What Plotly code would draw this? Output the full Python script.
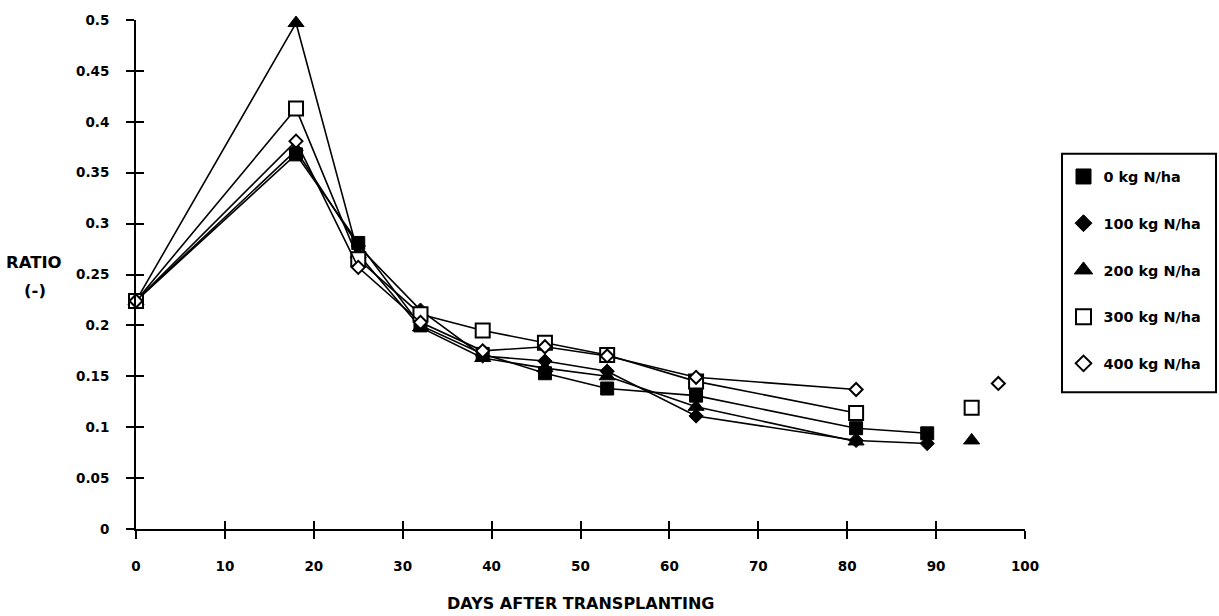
import plotly.graph_objects as go

# ---- data ----
days_main = [0, 18, 25, 32, 39, 46, 53, 63, 81, 89]
n0 = [0.224, 0.368, 0.281, 0.200, 0.172, 0.153, 0.138, 0.131, 0.099, 0.094]
n100 = [0.224, 0.372, 0.278, 0.215, 0.170, 0.165, 0.155, 0.111, 0.087, 0.084]

days_200 = [0, 18, 25, 32, 39, 46, 53, 63, 81, 89, 94]
n200 = [0.224, 0.497, 0.270, 0.198, 0.168, 0.158, 0.150, 0.120, 0.086, None, 0.087]

days_300 = [0, 18, 25, 32, 39, 46, 53, 63, 81, 89, 94]
n300 = [0.224, 0.413, 0.265, 0.211, 0.195, 0.183, 0.171, 0.145, 0.114, None, 0.119]

days_400 = [0, 18, 25, 32, 39, 46, 53, 63, 81, 89, 97]
n400 = [0.224, 0.381, 0.257, 0.203, 0.175, 0.179, 0.170, 0.149, 0.137, None, 0.143]

series_names = ["0 kg N/ha", "100 kg N/ha", "200 kg N/ha", "300 kg N/ha", "400 kg N/ha"]
x_ticks = [0, 10, 20, 30, 40, 50, 60, 70, 80, 90, 100]
y_ticks = [0, 0.05, 0.1, 0.15, 0.2, 0.25, 0.3, 0.35, 0.4, 0.45, 0.5]
y_tick_text = ["0", "0.05", "0.1", "0.15", "0.2", "0.25", "0.3", "0.35", "0.4", "0.45", "0.5"]

FONT = "DejaVu Sans"

styles = [
    dict(symbol="square", size=13, color="black", line=dict(color="black", width=1)),
    dict(symbol="diamond", size=11, color="black", line=dict(color="black", width=1)),
    dict(symbol="triangle-up", size=14, color="black", line=dict(color="black", width=1)),
    dict(symbol="square", size=14, color="white", line=dict(color="black", width=2)),
    dict(symbol="diamond", size=10, color="white", line=dict(color="black", width=2)),
]
legend_styles = [
    dict(symbol="square", size=15, color="black", line=dict(color="black", width=1)),
    dict(symbol="diamond", size=13, color="black", line=dict(color="black", width=1)),
    dict(symbol="triangle-up", size=16, color="black", line=dict(color="black", width=1)),
    dict(symbol="square", size=15, color="white", line=dict(color="black", width=2)),
    dict(symbol="diamond", size=12, color="white", line=dict(color="black", width=2)),
]

data = [(days_main, n0), (days_main, n100), (days_200, n200), (days_300, n300), (days_400, n400)]

fig = go.Figure()
for (xs, ys), st in zip(data, styles):
    fig.add_trace(go.Scatter(
        x=xs, y=ys, mode="lines+markers", connectgaps=False,
        line=dict(color="black", width=1.6), marker=st,
        showlegend=False, cliponaxis=False, hoverinfo="x+y",
    ))

for i, (name, st) in enumerate(zip(series_names, legend_styles)):
    fig.add_trace(go.Scatter(
        x=[None], y=[None], mode="markers", marker=st, name=name,
        legendgroup=f"g{i}", showlegend=True,
    ))

# helper trace for inner tick half (crossing ticks)
fig.add_trace(go.Scatter(x=[None], y=[None], xaxis="x2", yaxis="y2",
                         showlegend=False, hoverinfo="skip"))

axis_common = dict(showgrid=False, zeroline=False, linecolor="black",
                   tickcolor="black", tickwidth=2, ticklen=8)

plot_left, plot_w = 136, 1219 - 136 - 194
plot_top, plot_h = 15, 616 - 15 - 87


def px_x(px):
    return (px - plot_left) / plot_w


def px_y(py):
    return (plot_top + plot_h - py) / plot_h


fig.update_layout(
    width=1219, height=616,
    margin=dict(l=136, r=194, t=15, b=87),
    paper_bgcolor="white", plot_bgcolor="white",
    font=dict(family=FONT, color="black", size=13),
    xaxis=dict(range=[0, 100], tickvals=x_ticks, showline=True, linewidth=2,
               ticks="outside", ticklabelstandoff=16,
               tickfont=dict(family=FONT, size=13.5, weight="bold"),
               **axis_common),
    yaxis=dict(range=[0, 0.5], tickvals=y_ticks, ticktext=y_tick_text,
               showline=True, linewidth=2, ticks="outside", ticklabelstandoff=14,
               tickfont=dict(family=FONT, size=13.5, weight="bold"),
               **axis_common),
    xaxis2=dict(range=[0, 100], tickvals=x_ticks, overlaying="x", anchor="y2",
                showline=False, ticks="inside", showticklabels=False, side="bottom",
                **axis_common),
    yaxis2=dict(range=[0, 0.5], tickvals=y_ticks, overlaying="y", anchor="x2",
                showline=False, ticks="inside", showticklabels=False, side="left",
                **axis_common),
    legend=dict(
        x=px_x(1063.5), y=px_y(157), xanchor="left", yanchor="top",
        borderwidth=0, bgcolor="rgba(0,0,0,0)",
        font=dict(family=FONT, size=14.4, weight="bold"),
        traceorder="grouped", tracegroupgap=25,
    ),
    shapes=[
        dict(type="rect", xref="paper", yref="paper",
             x0=px_x(1062), x1=px_x(1216), y0=px_y(391), y1=px_y(150),
             line=dict(color="black", width=2), fillcolor="rgba(0,0,0,0)",
             layer="below"),
    ],
    annotations=[
        dict(text="DAYS AFTER TRANSPLANTING", x=px_x(580), y=px_y(604),
             xref="paper", yref="paper", xanchor="center", yanchor="middle",
             showarrow=False, font=dict(family=FONT, size=16, weight="bold")),
        dict(text="RATIO", x=px_x(34), y=px_y(260), xref="paper", yref="paper",
             xanchor="center", yanchor="middle",
             showarrow=False, font=dict(family=FONT, size=16.5, weight="bold")),
        dict(text="(-)", x=px_x(35), y=px_y(288), xref="paper", yref="paper",
             xanchor="center", yanchor="middle",
             showarrow=False, font=dict(family=FONT, size=16.5, weight="bold")),
    ],
)

fig.write_html("out.html")
